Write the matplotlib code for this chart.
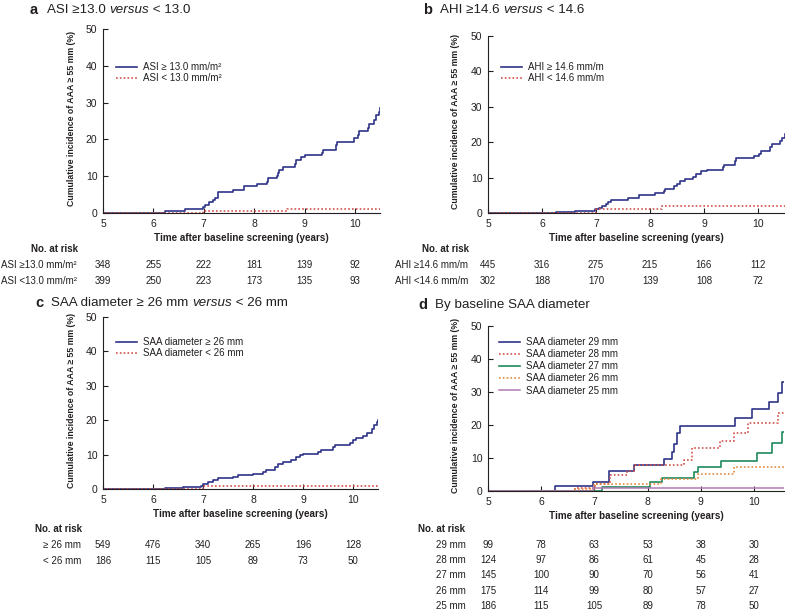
import matplotlib
matplotlib.use("Agg")
import matplotlib.pyplot as plt
from matplotlib.transforms import blended_transform_factory

# ---- data ----
years = [5, 6, 7, 8, 9, 10]
y_ticks = [0, 10, 20, 30, 40, 50]

# panel a: ASI
asi_hi_t = [5, 6.24, 6.62, 6.98, 7.02, 7.10, 7.18, 7.22, 7.28, 7.57, 7.80, 8.05, 8.25, 8.28,
            8.45, 8.47, 8.50, 8.58, 8.80, 8.83, 8.93, 9.00, 9.35, 9.37, 9.62, 9.65, 9.98,
            10.05, 10.08, 10.25, 10.28, 10.38, 10.42, 10.47, 10.5]
asi_hi_v = [0, 0.5, 1.0, 1.6, 2.3, 2.9, 3.5, 4.2, 5.7, 6.2, 7.3, 7.8, 8.5, 9.4,
            10.1, 10.9, 11.6, 12.4, 13.3, 14.3, 15.1, 15.8, 16.4, 17.2, 18.6, 19.4, 20.3,
            21.3, 22.2, 23.2, 24.2, 25.3, 26.5, 27.4, 28.5]
asi_lo_t = [5, 6.98, 8.65, 10.5]
asi_lo_v = [0, 0.6, 1.2, 1.2]
asi_labels = ["ASI \u2265 13.0 mm/m\u00b2", "ASI < 13.0 mm/m\u00b2"]
asi_risk_labels = ["ASI \u226513.0 mm/m\u00b2", "ASI <13.0 mm/m\u00b2"]
asi_risk = [[348, 255, 222, 181, 139, 92],
            [399, 250, 223, 173, 135, 93]]

# panel b: AHI
ahi_hi_t = [5, 6.25, 6.62, 6.98, 7.05, 7.12, 7.18, 7.22, 7.28, 7.60, 7.80, 8.10, 8.25, 8.28,
            8.45, 8.50, 8.55, 8.65, 8.80, 8.85, 8.95, 9.05, 9.35, 9.37, 9.57, 9.60, 9.93,
            10.02, 10.05, 10.23, 10.25, 10.40, 10.45, 10.5]
ahi_hi_v = [0, 0.3, 0.7, 1.0, 1.4, 2.0, 2.6, 3.2, 3.8, 4.2, 5.1, 5.6, 6.2, 6.7,
            7.5, 8.3, 8.9, 9.5, 10.3, 11.1, 11.8, 12.2, 13.0, 13.5, 14.7, 15.5, 16.1,
            16.8, 17.6, 18.6, 19.5, 20.2, 21.2, 22.3]
ahi_lo_t = [5, 7.0, 8.22, 10.5]
ahi_lo_v = [0, 1.2, 1.9, 1.9]
ahi_labels = ["AHI \u2265 14.6 mm/m", "AHI < 14.6 mm/m"]
ahi_risk_labels = ["AHI \u226514.6 mm/m", "AHI <14.6 mm/m"]
ahi_risk = [[445, 316, 275, 215, 166, 112],
            [302, 188, 170, 139, 108, 72]]

# panel c: SAA >= 26 vs < 26
saa_hi_t = [5, 6.25, 6.60, 6.97, 7.00, 7.10, 7.20, 7.30, 7.60, 7.70, 8.00, 8.20, 8.25,
            8.45, 8.50, 8.60, 8.75, 8.85, 8.95, 9.00, 9.30, 9.35, 9.60, 9.63, 9.95,
            10.00, 10.05, 10.20, 10.27, 10.38, 10.42, 10.47, 10.5]
saa_hi_v = [0, 0.2, 0.5, 0.9, 1.5, 1.9, 2.5, 3.2, 3.6, 4.0, 4.5, 5.0, 5.6,
            6.4, 7.3, 7.8, 8.5, 9.2, 9.8, 10.2, 10.7, 11.2, 12.3, 12.9, 13.5,
            14.3, 14.9, 15.5, 16.4, 17.3, 18.5, 19.5, 20.0]
saa_lo_t = [5, 7.0, 10.5]
saa_lo_v = [0, 0.8, 0.8]
saa_labels = ["SAA diameter \u2265 26 mm", "SAA diameter < 26 mm"]
saa_risk_labels = ["\u2265 26 mm", "< 26 mm"]
saa_risk = [[549, 476, 340, 265, 196, 128],
            [186, 115, 105, 89, 73, 50]]

# panel d: by baseline SAA diameter
d29_t = [5, 6.26, 6.97, 7.27, 7.74, 8.30, 8.45, 8.50, 8.55, 8.61, 9.65, 9.97, 10.28, 10.46, 10.52, 10.57]
d29_v = [0, 1.4, 2.8, 6.1, 7.9, 9.7, 11.8, 14.2, 17.6, 19.8, 22.2, 24.7, 27.1, 29.8, 32.9, 32.9]
d28_t = [5, 6.64, 7.01, 7.30, 7.62, 7.74, 8.68, 8.83, 9.36, 9.62, 9.89, 10.45, 10.57]
d28_v = [0, 0.9, 2.1, 5.0, 6.0, 7.8, 9.3, 12.9, 15.2, 17.7, 20.5, 23.7, 23.7]
d27_t = [5, 7.15, 8.05, 8.27, 8.88, 8.95, 9.38, 10.05, 10.33, 10.52, 10.57]
d27_v = [0, 1.1, 2.7, 4.0, 5.8, 7.3, 9.2, 11.5, 14.6, 17.8, 17.8]
d26_t = [5, 6.60, 7.00, 8.25, 8.95, 9.62, 10.57]
d26_v = [0, 0.6, 2.0, 3.6, 5.3, 7.4, 7.4]
d25_t = [5, 6.98, 10.57]
d25_v = [0, 0.9, 0.9]
d_labels = ["SAA diameter 29 mm", "SAA diameter 28 mm", "SAA diameter 27 mm",
            "SAA diameter 26 mm", "SAA diameter 25 mm"]
d_risk_labels = ["29 mm", "28 mm", "27 mm", "26 mm", "25 mm"]
d_risk = [[99, 78, 63, 53, 38, 30],
          [124, 97, 86, 61, 45, 28],
          [145, 100, 90, 70, 56, 41],
          [175, 114, 99, 80, 57, 27],
          [186, 115, 105, 89, 78, 50]]

# ---- styling ----
BLUE = "#2f3488"
RED = "#d2524a"
GREEN = "#1f8a5b"
ORANGE = "#e58a3a"
PURPLE = "#b07ab0"
INK = "#231f20"
DOT = (0, (1, 1.3))

plt.rcParams["font.family"] = ["Liberation Sans", "DejaVu Sans"]
plt.rcParams["text.color"] = INK

W, H = 785, 615
fig = plt.figure(figsize=(W / 100, H / 100), dpi=100)
renderer = fig.canvas.get_renderer()


def fx(px):
    return px / W


def fy(py):
    return 1 - py / H


def make_axes(x5, x10, y0, y50, xmax):
    """Place an axes so that data x=5/10 and y=0/50 land on given pixels."""
    ppy = (x10 - x5) / 5.0
    right = x5 + (xmax - 5) * ppy
    ax = fig.add_axes([fx(x5), fy(y0), (right - x5) / W, (y0 - y50) / H])
    ax.set_xlim(5, xmax)
    ax.set_ylim(0, 50)
    ax.set_xticks(years)
    ax.set_yticks(y_ticks)
    for s in ("top", "right"):
        ax.spines[s].set_visible(False)
    for s in ("left", "bottom"):
        ax.spines[s].set_linewidth(0.8)
        ax.spines[s].set_color(INK)
    ax.tick_params(direction="in", length=3.5, width=0.8, labelsize=7.5,
                   colors=INK, pad=4)
    ax.patch.set_alpha(0)
    # axis titles
    xc = (x5 + right) / 2
    fig.text(fx(xc), fy(y0 + 25), "Time after baseline screening (years)",
             ha="center", va="center", fontsize=7.1, fontweight="bold")
    fig.text(fx(x5 - 32), fy((y0 + y50) / 2 - 3), "Cumulative incidence of AAA \u2265 55 mm (%)",
             ha="center", va="center", rotation=90, fontsize=6.3, fontweight="bold")
    return ax


def title(x_letter, x_text, y, letter, parts):
    fig.text(fx(x_letter), fy(y), letter, ha="left", va="center",
             fontsize=10.5, fontweight="bold")
    x = fx(x_text)
    for txt, style in parts:
        t = fig.text(x, fy(y), txt, ha="left", va="center", fontsize=9.6, fontstyle=style)
        x += t.get_window_extent(renderer).width / W


def risk_table(ax, x_head, y_head, rows, labels, label_x, label_ha, dy=15.5):
    fig.text(fx(x_head), fy(y_head), "No. at risk", ha="left", va="center",
             fontsize=7, fontweight="bold")
    tr = blended_transform_factory(ax.transData, fig.transFigure)
    for i, (lab, counts) in enumerate(zip(labels, rows)):
        yy = fy(y_head + 16 + i * dy)
        fig.text(fx(label_x), yy, lab, ha=label_ha, va="center", fontsize=7)
        for yr, n in zip(years, counts):
            ax.text(yr, yy, str(n), transform=tr, ha="center", va="center", fontsize=7)


def legend(ax, x_px, y_px, spacing=0.12):
    ax.legend(loc="upper left", bbox_to_anchor=(fx(x_px), fy(y_px)),
              bbox_transform=fig.transFigure, frameon=False, fontsize=7,
              handlelength=2.2, handletextpad=0.6, labelspacing=spacing,
              borderpad=0, borderaxespad=0)


# ---- panel a ----
ax_a = make_axes(103, 355, 213, 29, 10.5)
ax_a.step(asi_hi_t, asi_hi_v, where="post", color=BLUE, lw=1.2, label=asi_labels[0])
ax_a.step(asi_lo_t, asi_lo_v, where="post", color=RED, lw=1.2, ls=DOT, label=asi_labels[1])
legend(ax_a, 116, 62)
title(30, 47, 10, "a", [("ASI \u226513.0 ", "normal"), ("versus", "italic"), (" < 13.0", "normal")])
risk_table(ax_a, 31, 249, asi_risk, asi_risk_labels, 1, "left")

# ---- panel b ----
ax_b = make_axes(488, 758, 213, 36, 10.5)
ax_b.step(ahi_hi_t, ahi_hi_v, where="post", color=BLUE, lw=1.2, label=ahi_labels[0])
ax_b.step(ahi_lo_t, ahi_lo_v, where="post", color=RED, lw=1.2, ls=DOT, label=ahi_labels[1])
legend(ax_b, 501, 62)
title(423, 440, 10, "b", [("AHI \u226514.6 ", "normal"), ("versus", "italic"), (" < 14.6", "normal")])
risk_table(ax_b, 422, 249, ahi_risk, ahi_risk_labels, 395, "left")

# ---- panel c ----
ax_c = make_axes(103, 353, 489, 317, 10.5)
ax_c.step(saa_hi_t, saa_hi_v, where="post", color=BLUE, lw=1.2, label=saa_labels[0])
ax_c.step(saa_lo_t, saa_lo_v, where="post", color=RED, lw=1.2, ls=DOT, label=saa_labels[1])
legend(ax_c, 116, 337)
title(35, 51, 303, "c", [("SAA diameter \u2265 26 mm ", "normal"), ("versus", "italic"),
                         (" < 26 mm", "normal")])
risk_table(ax_c, 35, 529, saa_risk, saa_risk_labels, 81, "right")

# ---- panel d ----
ax_d = make_axes(488, 754, 491, 326, 10.57)
ax_d.step(d29_t, d29_v, where="post", color=BLUE, lw=1.2, label=d_labels[0])
ax_d.step(d28_t, d28_v, where="post", color=RED, lw=1.2, ls=DOT, label=d_labels[1])
ax_d.step(d27_t, d27_v, where="post", color=GREEN, lw=1.2, label=d_labels[2])
ax_d.step(d26_t, d26_v, where="post", color=ORANGE, lw=1.2, ls=DOT, label=d_labels[3])
ax_d.step(d25_t, d25_v, where="post", color=PURPLE, lw=1.1, label=d_labels[4])
legend(ax_d, 499, 337, spacing=0.22)
title(418, 435, 305, "d", [("By baseline SAA diameter", "normal")])
risk_table(ax_d, 418, 529, d_risk, d_risk_labels, 466, "right", dy=15.2)

fig.savefig("out.png", dpi=100)
